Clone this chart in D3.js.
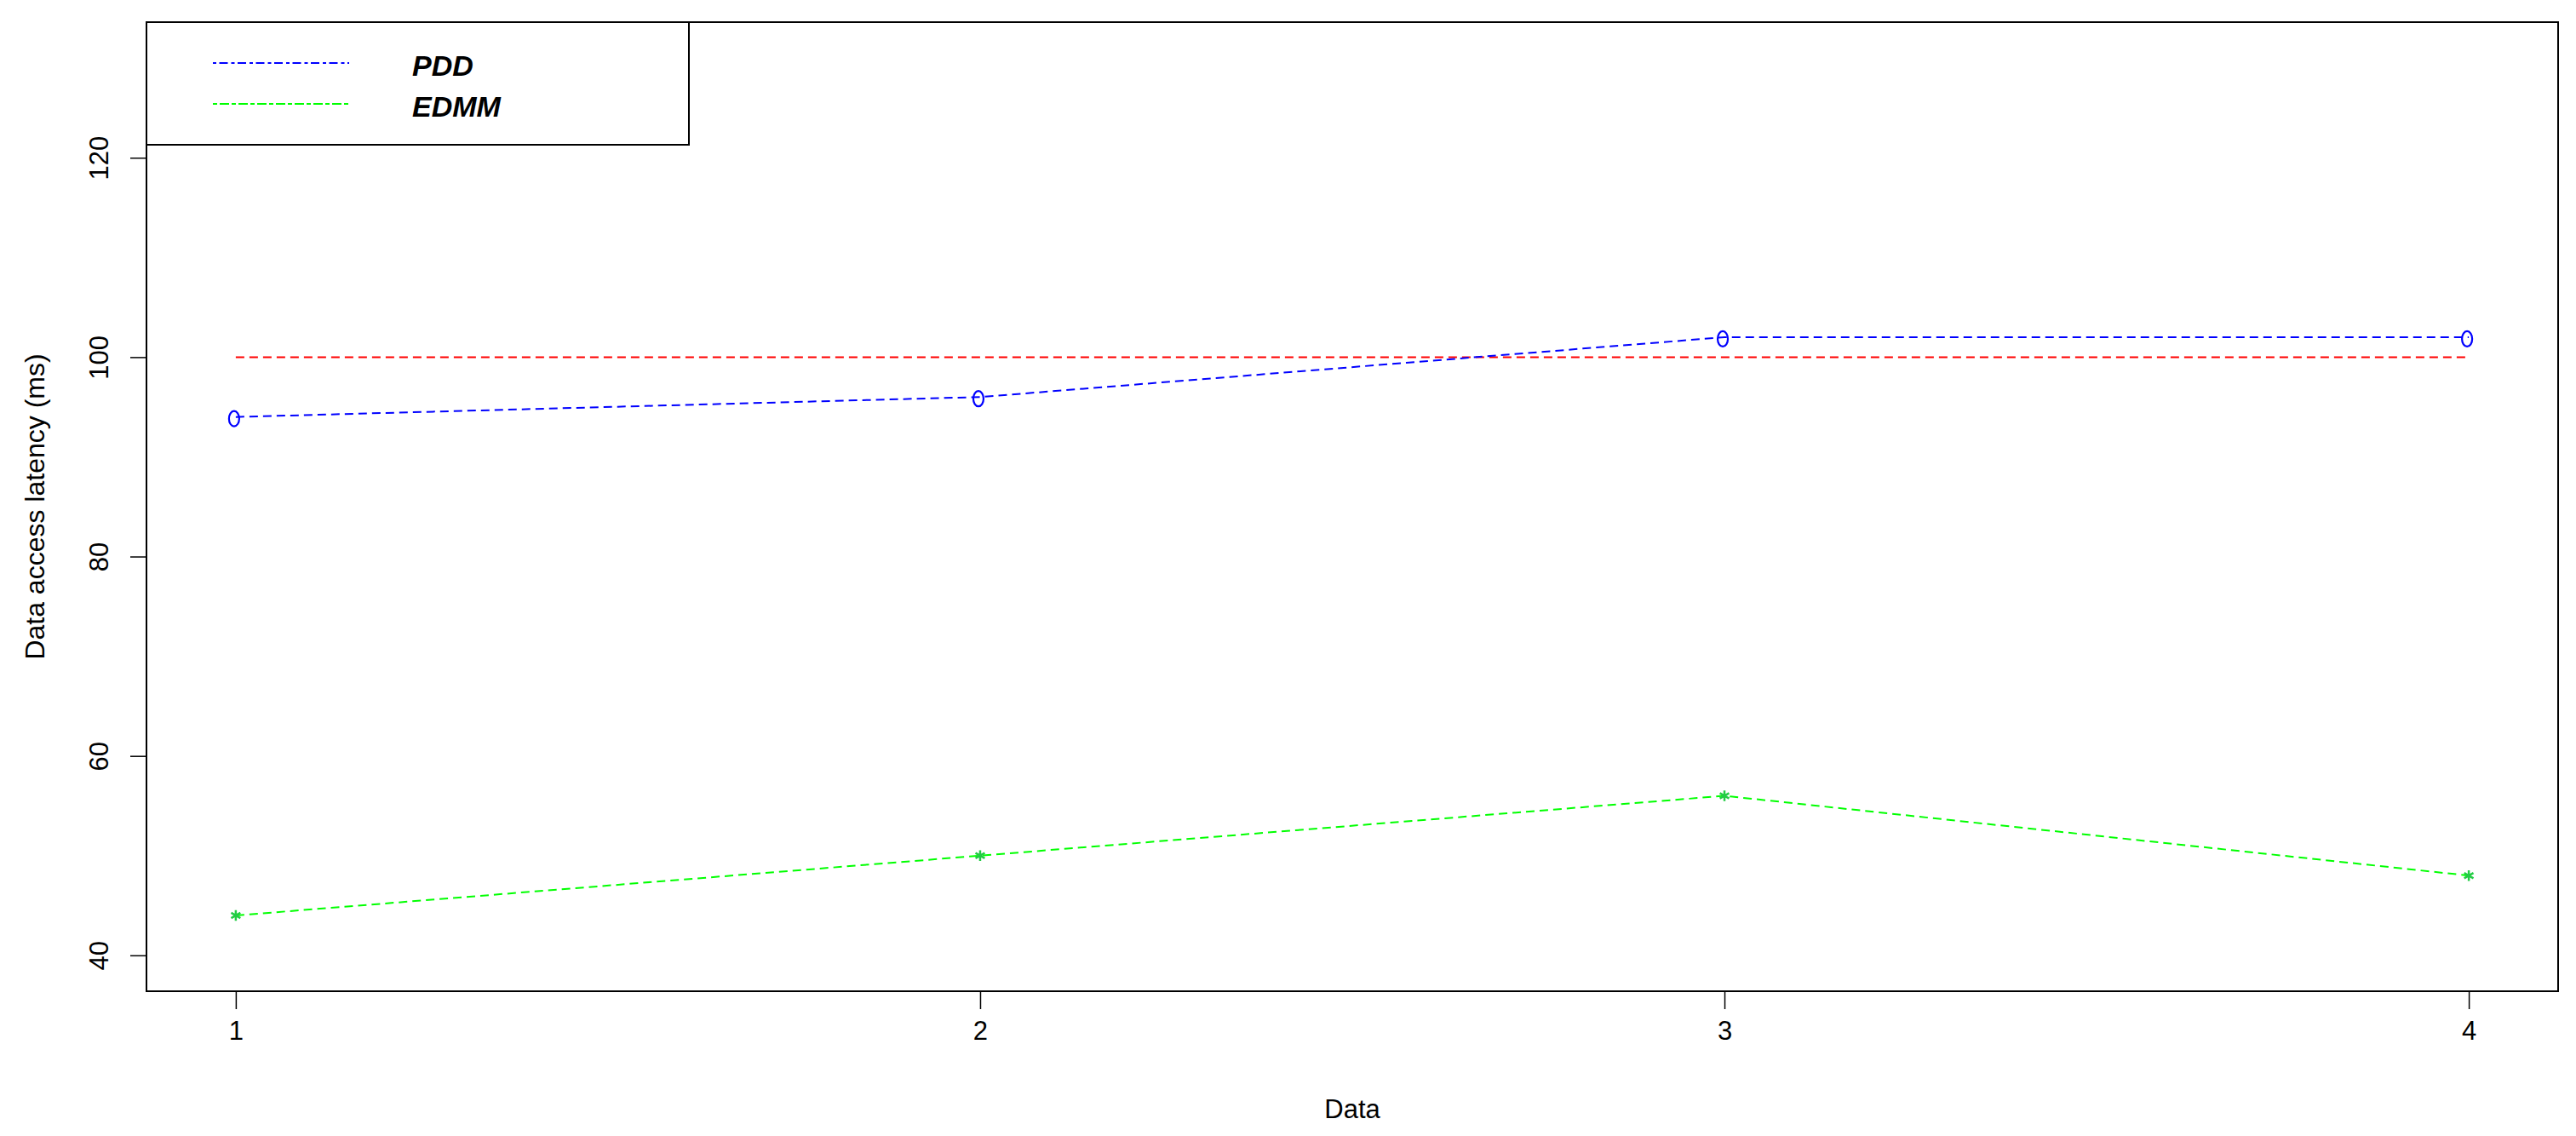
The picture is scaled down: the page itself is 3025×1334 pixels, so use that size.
<!DOCTYPE html>
<html>
<head>
<meta charset="utf-8">
<script src="https://cdn.jsdelivr.net/npm/d3@7"></script>
<style>
  body { margin: 0; background: #fff; }
  text { font-family: "Liberation Sans", Arial, sans-serif; }
</style>
</head>
<body>
<div id="chart"></div>
<script>
// data
var categories = [1, 2, 3, 4];
var pddValues = [94, 96, 102, 102];
var edmmValues = [44, 50, 56, 48];
var refX = [1, 4];
var refValues = [100, 100];
var xTicks = [1, 2, 3, 4];
var yTicks = [40, 60, 80, 100, 120];
var seriesNames = ["PDD", "EDMM"];
var seriesColors = ["#0000FF", "#00FF00"];

var W = 3025, H = 1334;
var box = {left: 172, right: 3004, top: 26, bottom: 1164};

var svg = d3.select("#chart").append("svg")
  .attr("width", W)
  .attr("height", H);

svg.append("rect").attr("width", W).attr("height", H).attr("fill", "#fff");

// R style 4% padding around the ranges
var x = d3.scaleLinear().domain([0.88, 4.12]).range([box.left, box.right]);
var y = d3.scaleLinear().domain([36.4, 133.6]).range([box.bottom, box.top]);

// x axis
var xAxis = svg.append("g")
  .attr("transform", "translate(0," + box.bottom + ")")
  .call(d3.axisBottom(x).tickValues(xTicks).tickSize(21).tickPadding(14).tickFormat(d3.format("d")));
xAxis.select(".domain").remove();
xAxis.selectAll("line").attr("stroke", "#000").attr("stroke-width", 1.5);
xAxis.selectAll("text").attr("font-size", 31).attr("fill", "#000")
  .attr("font-family", "Liberation Sans, Arial, sans-serif");

// y axis, labels turned like R's las=0
var yAxis = svg.append("g")
  .attr("transform", "translate(" + box.left + ",0)")
  .call(d3.axisLeft(y).tickValues(yTicks).tickSize(19).tickFormat(d3.format("d")));
yAxis.select(".domain").remove();
yAxis.selectAll("line").attr("stroke", "#000").attr("stroke-width", 1.5);
yAxis.selectAll("text")
  .attr("font-size", 31).attr("fill", "#000")
  .attr("font-family", "Liberation Sans, Arial, sans-serif")
  .attr("x", null).attr("dy", null)
  .attr("text-anchor", "middle")
  .attr("transform", "translate(-45,0) rotate(-90)");

// axis titles
svg.append("text")
  .attr("x", (box.left + box.right) / 2)
  .attr("y", 1313)
  .attr("text-anchor", "middle")
  .attr("font-size", 31)
  .text("Data");

svg.append("text")
  .attr("transform", "translate(52," + (box.top + box.bottom) / 2 + ") rotate(-90)")
  .attr("text-anchor", "middle")
  .attr("font-size", 32)
  .text("Data access latency (ms)");

// reference line at 100
svg.append("path")
  .datum(refX.map(function(d, i) { return [d, refValues[i]]; }))
  .attr("fill", "none")
  .attr("stroke", "#FF0000")
  .attr("stroke-width", 2)
  .style("stroke-dasharray", "10, 6")
  .attr("d", d3.line()
    .x(function(d) { return x(d[0]); })
    .y(function(d) { return y(d[1]); }));

var line = d3.line()
  .x(function(d, i) { return x(categories[i]); })
  .y(function(d) { return y(d); });

// PDD
svg.append("path")
  .datum(pddValues)
  .attr("fill", "none")
  .attr("stroke", seriesColors[0])
  .attr("stroke-width", 2)
  .style("stroke-dasharray", "10, 6")
  .attr("d", line);

svg.selectAll(".pdd-pt")
  .data(pddValues).enter()
  .append("ellipse")
  .attr("class", "pdd-pt")
  .attr("cx", function(d, i) { return x(categories[i]) - 2; })
  .attr("cy", function(d) { return y(d) + 2; })
  .attr("rx", 6)
  .attr("ry", 9)
  .attr("fill", "none")
  .attr("stroke", seriesColors[0])
  .attr("stroke-width", 2.2);

// EDMM
svg.append("path")
  .datum(edmmValues)
  .attr("fill", "none")
  .attr("stroke", seriesColors[1])
  .attr("stroke-width", 2)
  .style("stroke-dasharray", "10, 6")
  .attr("d", line);

var star = d3.symbol().type(d3.symbolAsterisk || d3.symbolCross).size(110);
svg.selectAll(".edmm-pt")
  .data(edmmValues).enter()
  .append("path")
  .attr("class", "edmm-pt")
  .attr("transform", function(d, i) { return "translate(" + x(categories[i]) + "," + y(d) + ")"; })
  .attr("d", star)
  .attr("fill", "none")
  .attr("stroke", "#22CC44")
  .attr("stroke-width", 2.5);

// plot frame
svg.append("rect")
  .attr("x", box.left)
  .attr("y", box.top)
  .attr("width", box.right - box.left)
  .attr("height", box.bottom - box.top)
  .attr("fill", "none")
  .attr("stroke", "#000")
  .attr("stroke-width", 2);

// legend, top left inside the frame
var legend = svg.append("g");
legend.append("rect")
  .attr("x", box.left)
  .attr("y", box.top)
  .attr("width", 809 - box.left)
  .attr("height", 170 - box.top)
  .attr("fill", "#fff")
  .attr("stroke", "#000")
  .attr("stroke-width", 2);

var legendDash = ["4, 3.5, 10, 4", "5, 3, 11, 3"];
seriesNames.forEach(function(name, i) {
  var ly = 74 + i * 48;
  legend.append("line")
    .attr("x1", 250).attr("x2", 410)
    .attr("y1", ly).attr("y2", ly)
    .attr("stroke", seriesColors[i])
    .attr("stroke-width", 2)
    .style("stroke-dasharray", legendDash[i]);
  legend.append("text")
    .attr("x", 484)
    .attr("y", ly + 15)
    .attr("font-size", 34)
    .attr("font-weight", "bold")
    .attr("font-style", "italic")
    .text(name);
});
</script>
</body>
</html>
